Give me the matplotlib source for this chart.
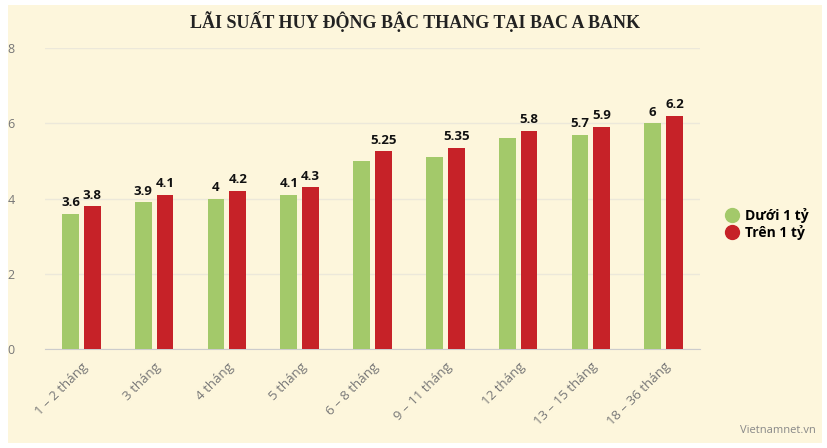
import matplotlib
matplotlib.use("Agg")
import matplotlib.pyplot as plt
import matplotlib.transforms as mtrans
import numpy as np
from matplotlib.lines import Line2D
from matplotlib.patches import Rectangle

categories = ["1 – 2 tháng", "3 tháng", "4 tháng", "5 tháng", "6 – 8 tháng",
              "9 – 11 tháng", "12 tháng", "13 – 15 tháng", "18 – 36 tháng"]
duoi_1_ty = [3.6, 3.9, 4.0, 4.1, 5.0, 5.1, 5.6, 5.7, 6.0]
tren_1_ty = [3.8, 4.1, 4.2, 4.3, 5.25, 5.35, 5.8, 5.9, 6.2]
# the source chart only labels some green bars
duoi_labels = ["3.6", "3.9", "4", "4.1", "", "", "", "5.7", "6"]
tren_labels = ["3.8", "4.1", "4.2", "4.3", "5.25", "5.35", "5.8", "5.9", "6.2"]
y_ticks = [0, 2, 4, 6, 8]

GREEN = "#a3c96a"
RED = "#c62228"
BG = "#fdf6dc"

plt.rcParams["font.family"] = ["Open Sans", "DejaVu Sans"]

fig = plt.figure(figsize=(8.27, 4.48), dpi=100)
fig.patch.set_facecolor("white")
fig.patches.append(Rectangle((8 / 827, 5 / 448), 814 / 827, 438 / 448,
                             transform=fig.transFigure, facecolor=BG,
                             edgecolor="none", zorder=0))

ax = fig.add_axes([45 / 827, 1 - 349 / 448, 655 / 827, 301 / 448])
ax.set_facecolor(BG)
ax.set_zorder(1)

x = np.arange(len(categories))
w = 0.23
off = 0.15
ax.bar(x - off, duoi_1_ty, width=w, color=GREEN, zorder=3)
ax.bar(x + off, tren_1_ty, width=w, color=RED, zorder=3)

for xi, v, lab in zip(x, duoi_1_ty, duoi_labels):
    if lab:
        ax.text(xi - off, v + 0.12, lab, ha="center", va="bottom",
                fontsize=9.5, fontweight="bold", color="#111111", zorder=4)
for xi, v, lab in zip(x, tren_1_ty, tren_labels):
    ax.text(xi + off, v + 0.12, lab, ha="center", va="bottom",
            fontsize=9.5, fontweight="bold", color="#111111", zorder=4)

ax.set_xlim(-0.5, len(categories) - 0.5)
ax.set_ylim(0, 8)
ax.set_yticks(y_ticks)
ax.set_yticklabels([str(t) for t in y_ticks], fontsize=9, color="#777777")
ax.grid(axis="y", color="#ece8da", linewidth=1, zorder=0)
ax.set_xticks(x)
ax.set_xticklabels(categories, rotation=45, ha="right", rotation_mode="anchor",
                   fontsize=9.5, color="#777777")
shift = mtrans.ScaledTranslation(2 / 100, 0, fig.dpi_scale_trans)
for lbl in ax.get_xticklabels():
    lbl.set_transform(lbl.get_transform() + shift)
ax.tick_params(axis="both", length=0, pad=8)
ax.tick_params(axis="y", pad=22)
for side in ["top", "right", "left"]:
    ax.spines[side].set_visible(False)
ax.spines["bottom"].set_color("#cccccc")

fig.text(415 / 827, 1 - 22 / 448, "LÃI SUẤT HUY ĐỘNG BẬC THANG TẠI BAC A BANK",
         ha="center", va="center", fontsize=13, fontweight="bold",
         family="Liberation Serif", color="#222222")

handles = [Line2D([0], [0], marker="o", linestyle="", markersize=10,
                  markerfacecolor=GREEN, markeredgecolor=GREEN),
           Line2D([0], [0], marker="o", linestyle="", markersize=10,
                  markerfacecolor=RED, markeredgecolor=RED)]
fig.legend(handles, ["Dưới 1 tỷ", "Trên 1 tỷ"], loc="center left",
           bbox_to_anchor=(709 / 827, 1 - 224 / 448), frameon=False,
           handletextpad=0.2, labelspacing=0.15, handlelength=1.5,
           prop={"weight": "bold", "size": 10})

fig.text(816 / 827, 1 - 436 / 448, "Vietnamnet.vn", ha="right", va="bottom",
         fontsize=8, color="#888888")

fig.savefig("out.png", dpi=100, facecolor=fig.get_facecolor())
